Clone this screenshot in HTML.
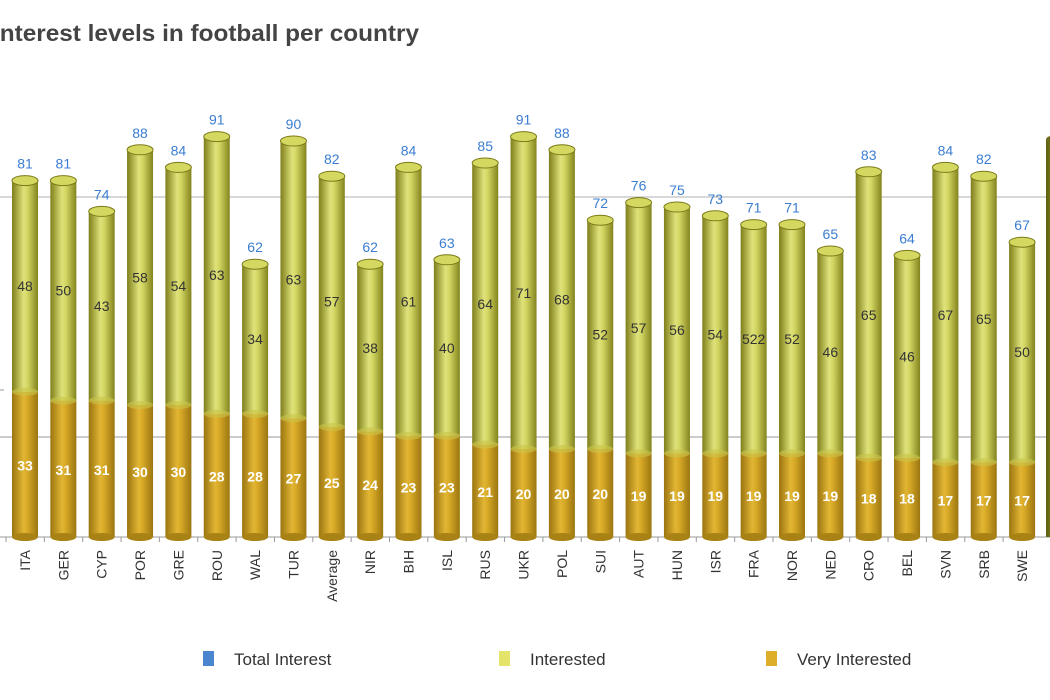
<!DOCTYPE html>
<html><head><meta charset="utf-8"><style>body{margin:0;background:#fff}svg{display:block;font-family:"Liberation Sans",sans-serif}</style></head>
<body>
<svg id="s" width="1050" height="700" viewBox="0 0 1050 700" xmlns="http://www.w3.org/2000/svg">
<defs>
<linearGradient id="g" x1="0" x2="1"><stop offset="0" stop-color="#7e7e1a"/><stop offset="0.45" stop-color="#dfe27a"/><stop offset="0.6" stop-color="#d3d662"/><stop offset="1" stop-color="#83831e"/></linearGradient>
<linearGradient id="o" x1="0" x2="1"><stop offset="0" stop-color="#9a7410"/><stop offset="0.45" stop-color="#e2b634"/><stop offset="0.6" stop-color="#d6a826"/><stop offset="1" stop-color="#9b7611"/></linearGradient>
<linearGradient id="d" x1="0" x2="1"><stop offset="0" stop-color="#5e5e10"/><stop offset="1" stop-color="#8a8a2a"/></linearGradient>
</defs>
<text x="-7" y="41" font-size="23" font-weight="bold" fill="#444" textLength="426" lengthAdjust="spacingAndGlyphs">Interest levels in football per country</text>
<line x1="0" y1="197" x2="1050" y2="197" stroke="#ccc" stroke-width="1.5"/>
<line x1="0" y1="437" x2="1050" y2="437" stroke="#bbb" stroke-width="1.5"/>
<line x1="0" y1="390" x2="4" y2="390" stroke="#999"/>
<line x1="0" y1="537" x2="1050" y2="537" stroke="#999"/>
<g id="bars"></g>
<rect x="203" y="651" width="11" height="15" fill="#4a86d0"/><text x="234" y="665" font-size="17" fill="#333">Total Interest</text>
<rect x="499" y="651" width="11" height="15" fill="#e4e46a"/><text x="530" y="665" font-size="17" fill="#333">Interested</text>
<rect x="766" y="651" width="11" height="15" fill="#dcae2a"/><text x="797" y="665" font-size="17" fill="#333">Very Interested</text>
</svg>
<script>
var D=[["ITA",81,48,33],["GER",81,50,31],["CYP",74,43,31],["POR",88,58,30],["GRE",84,54,30],["ROU",91,63,28],["WAL",62,34,28],["TUR",90,63,27],["Average",82,57,25],["NIR",62,38,24],["BIH",84,61,23],["ISL",63,40,23],["RUS",85,64,21],["UKR",91,71,20],["POL",88,68,20],["SUI",72,52,20],["AUT",76,57,19],["HUN",75,56,19],["ISR",73,54,19],["FRA",71,"522",19],["NOR",71,52,19],["NED",65,46,19],["CRO",83,65,18],["BEL",64,46,18],["SVN",84,67,17],["SRB",82,65,17],["SWE",67,50,17]];
var s="",B=537,k=4.4,w=26;
D.forEach(function(d,i){var cx=25+i*38.35,x=cx-w/2,t=B-d[1]*k,m=B-d[3]*k;
s+='<line x1="'+(cx-19)+'" y1="537" x2="'+(cx-19)+'" y2="542" stroke="#999"/>';
s+='<rect x="'+x+'" y="'+t+'" width="'+w+'" height="'+(m-t)+'" fill="url(#g)"/>';
s+='<rect x="'+x+'" y="'+m+'" width="'+w+'" height="'+(B-m)+'" fill="url(#o)"/>';
s+='<ellipse cx="'+cx+'" cy="'+m+'" rx="13" ry="4" fill="#c9c44a" opacity="0.6"/>';
s+='<ellipse cx="'+cx+'" cy="'+B+'" rx="13" ry="4" fill="#a88214"/>';
s+='<ellipse cx="'+cx+'" cy="'+t+'" rx="13" ry="5" fill="#d4d860" stroke="#7a7a18" stroke-width="1"/>';
s+='<text x="'+cx+'" y="'+(t-12)+'" font-size="14" fill="#3b7dd0" text-anchor="middle">'+d[1]+'</text>';
s+='<text x="'+cx+'" y="'+((t+m)/2+5)+'" font-size="14" fill="#333" text-anchor="middle">'+d[2]+'</text>';
s+='<text x="'+cx+'" y="'+((m+B)/2+6)+'" font-size="14" font-weight="bold" fill="#fff" text-anchor="middle">'+d[3]+'</text>';
s+='<text transform="translate('+(cx+5)+',550) rotate(-90)" font-size="14" fill="#333" text-anchor="end">'+d[0]+'</text>';});
s+='<rect x="1046" y="140" width="10" height="397" fill="url(#d)"/><ellipse cx="1051" cy="140" rx="5" ry="4" fill="#6a6a18"/>';
document.getElementById("bars").innerHTML=s;
</script>
</body></html>
